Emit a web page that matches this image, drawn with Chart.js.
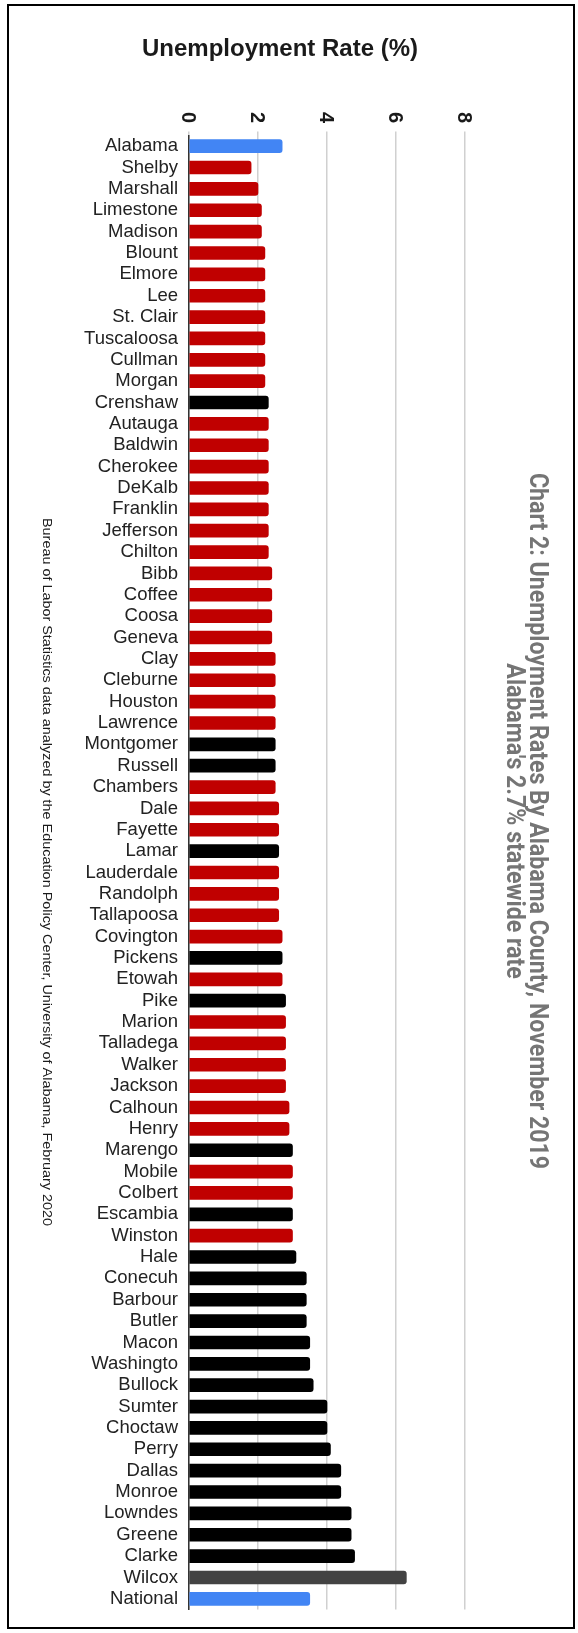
<!DOCTYPE html>
<html>
<head>
<meta charset="utf-8">
<script src="https://cdn.jsdelivr.net/npm/chart.js@4.4.1/dist/chart.umd.min.js"></script>
<style>
  html, body { margin: 0; padding: 0; background: #ffffff; }
  #wrap { width: 578px; height: 1633px; position: relative; }
  canvas { display: block; }
</style>
</head>
<body>
<div id="wrap"><canvas id="c" width="578" height="1633"></canvas></div>
<script>
const categories = [
  'Alabama','Shelby','Marshall','Limestone','Madison','Blount','Elmore','Lee','St. Clair','Tuscaloosa',
  'Cullman','Morgan','Crenshaw','Autauga','Baldwin','Cherokee','DeKalb','Franklin','Jefferson','Chilton',
  'Bibb','Coffee','Coosa','Geneva','Clay','Cleburne','Houston','Lawrence','Montgomer','Russell',
  'Chambers','Dale','Fayette','Lamar','Lauderdale','Randolph','Tallapoosa','Covington','Pickens','Etowah',
  'Pike','Marion','Talladega','Walker','Jackson','Calhoun','Henry','Marengo','Mobile','Colbert',
  'Escambia','Winston','Hale','Conecuh','Barbour','Butler','Macon','Washingto','Bullock','Sumter',
  'Choctaw','Perry','Dallas','Monroe','Lowndes','Greene','Clarke','Wilcox','National'
];
const rates = [
  2.7, 1.8, 2.0, 2.1, 2.1, 2.2, 2.2, 2.2, 2.2, 2.2,
  2.2, 2.2, 2.3, 2.3, 2.3, 2.3, 2.3, 2.3, 2.3, 2.3,
  2.4, 2.4, 2.4, 2.4, 2.5, 2.5, 2.5, 2.5, 2.5, 2.5,
  2.5, 2.6, 2.6, 2.6, 2.6, 2.6, 2.6, 2.7, 2.7, 2.7,
  2.8, 2.8, 2.8, 2.8, 2.8, 2.9, 2.9, 3.0, 3.0, 3.0,
  3.0, 3.0, 3.1, 3.4, 3.4, 3.4, 3.5, 3.5, 3.6, 4.0,
  4.0, 4.1, 4.4, 4.4, 4.7, 4.7, 4.8, 6.3, 3.5
];
const tickValues = [0, 2, 4, 6, 8];
const tickLabels = ['0', '2', '4', '6', '8'];
const blackBeltCounties = [
  'Crenshaw','Montgomer','Russell','Lamar','Pickens','Pike','Marengo','Escambia','Hale','Conecuh',
  'Barbour','Butler','Macon','Washingto','Bullock','Sumter','Choctaw','Perry','Dallas','Monroe',
  'Lowndes','Greene','Clarke'
];
const referenceRows = ['Alabama', 'National'];
const outlierRows = ['Wilcox'];
const chartTitle = 'Unemployment Rate (%)';
const sideTitle = ['Chart 2: Unemployment Rates By Alabama County, November 2019', "Alabama's 2.7% statewide rate"];
const sourceNote = 'Bureau of Labor Statistics data analyzed by the Education Policy Center, University of Alabama, February 2020';

const COLORS = { reference: '#4285F4', blackBelt: '#000000', outlier: '#434343', other: '#C00000' };
const barColors = categories.map(c =>
  referenceRows.includes(c) ? COLORS.reference :
  outlierRows.includes(c) ? COLORS.outlier :
  blackBeltCounties.includes(c) ? COLORS.blackBelt : COLORS.other);

const SANS = '"Liberation Sans", Arial, sans-serif';

const decor = {
  id: 'decor',
  afterDraw(chart) {
    const ctx = chart.ctx;
    const xs = chart.scales.x;
    ctx.save();
    // frame
    ctx.strokeStyle = '#000';
    ctx.lineWidth = 2;
    ctx.strokeRect(8, 5, 566, 1623);
    // main title
    ctx.fillStyle = '#1a1a1a';
    ctx.font = 'bold 24px ' + SANS;
    ctx.textAlign = 'center';
    ctx.textBaseline = 'middle';
    ctx.fillText(chartTitle, 280, 49);
    // rotated tick labels (clockwise)
    ctx.font = 'bold 20px ' + SANS;
    tickValues.forEach((v, i) => {
      const x = xs.getPixelForValue(v);
      ctx.save();
      ctx.translate(x, 117.5);
      ctx.rotate(Math.PI / 2);
      ctx.textAlign = 'center';
      ctx.textBaseline = 'alphabetic';
      ctx.fillText(tickLabels[i], 0, 7.2);
      ctx.restore();
    });
    // side title (right)
    ctx.fillStyle = '#757575';
    ctx.font = 'bold 25px Roboto, ' + SANS;
    const w0 = ctx.measureText(sideTitle[0]).width;
    const sx = 696 / w0;
    [[sideTitle[0], 530], [sideTitle[1], 507]].forEach(([t, bx]) => {
      ctx.save();
      ctx.translate(bx, 821);
      ctx.rotate(Math.PI / 2);
      ctx.scale(sx, 1);
      ctx.textAlign = 'center';
      ctx.textBaseline = 'alphabetic';
      ctx.fillText(t, 0, 0);
      ctx.restore();
    });
    // source note (left)
    ctx.fillStyle = '#1a1a1a';
    ctx.font = '13px ' + SANS;
    const w1 = ctx.measureText(sourceNote).width;
    const sx1 = 708 / w1;
    ctx.save();
    ctx.translate(43, 872);
    ctx.rotate(Math.PI / 2);
    ctx.scale(sx1, 1);
    ctx.textAlign = 'center';
    ctx.textBaseline = 'alphabetic';
    ctx.fillText(sourceNote, 0, 0);
    ctx.restore();
    ctx.restore();
  }
};

new Chart(document.getElementById('c'), {
  type: 'bar',
  data: {
    labels: categories,
    datasets: [{
      data: rates,
      backgroundColor: barColors,
      barThickness: 13,
      borderRadius: 3,
      borderSkipped: 'start'
    }]
  },
  options: {
    indexAxis: 'y',
    responsive: false,
    animation: false,
    layout: { padding: { left: 0, right: 113, top: 131.5, bottom: 23.5 } },
    plugins: { legend: { display: false }, tooltip: { enabled: false }, title: { display: false } },
    scales: {
      x: {
        position: 'top', min: 0, max: 8,
        ticks: { stepSize: 2, display: false },
        grid: { color: '#d0d0d0', lineWidth: 1.5, drawTicks: true, tickLength: 4 },
        border: { display: false },
        afterFit(s) { s.height = 4; }
      },
      y: {
        ticks: { autoSkip: false, padding: 11, color: '#222', font: { family: SANS, size: 18.5 } },
        grid: { display: false, drawTicks: false },
        border: { display: true, color: '#333', width: 1.5 },
        afterFit(s) { s.width = 189; }
      }
    }
  },
  plugins: [decor]
});
</script>
</body>
</html>
